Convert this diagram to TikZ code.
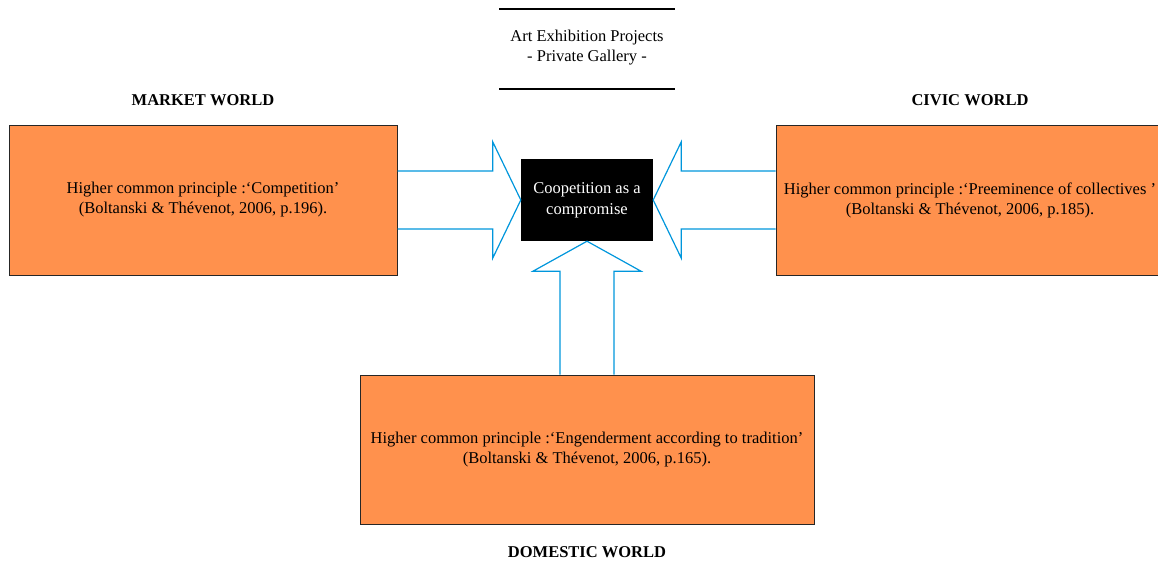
\documentclass[tikz,border=0pt]{standalone}
\usepackage{fontspec}
\setmainfont{Liberation Serif}
\usetikzlibrary{calc}
\definecolor{worldorange}{RGB}{255,145,77}
\definecolor{arrowblue}{RGB}{0,150,220}

\begin{document}
\begin{tikzpicture}[x=1pt, y=-1pt, font=\fontsize{16.5}{20}\selectfont,
    worldbox/.style={draw=black!85, line width=1pt, fill=worldorange, inner sep=0pt, align=center, minimum height=150pt},
    worldlabel/.style={font=\fontsize{16.5}{20}\selectfont\bfseries},
    blockarrow/.style={draw=arrowblue, line width=1.2pt, line join=miter}]
    \useasboundingbox (0,0) rectangle (1158,565);
    \clip (0,0) rectangle (1158,565);
    % Titulo
    \node[align=center] (title) at (587,48) {Art Exhibition Projects\\- Private Gallery -};
    \coordinate (tl) at (499,9);
    \coordinate (tr) at (675,9);
    \coordinate (bl) at (499,89);
    \coordinate (br) at (675,89);
    \draw[line width=1.2pt] (tl) -- (tr);
    \draw[line width=1.2pt] (bl) -- (br);
    % Mundos
    \node[worldbox, minimum width=388pt] (market) at (203,200)
        {Higher common principle :`Competition'\\(Boltanski \& Thévenot, 2006, p.196).};
    \node[worldbox, minimum width=400pt] (civic) at (976,200)
        {\hspace*{-12pt}Higher common principle :`Preeminence of collectives '\\\hspace*{-12pt}(Boltanski \& Thévenot, 2006, p.185).};
    \node[worldbox, minimum width=454pt, minimum height=149pt] (domestic) at (587,449.5)
        {Higher common principle :`Engenderment according to tradition'\\(Boltanski \& Thévenot, 2006, p.165).};
    \node[worldlabel] (marketlabel) at (203,100) {MARKET WORLD};
    \node[worldlabel] (civiclabel) at (970,100) {CIVIC WORLD};
    \node[worldlabel] (domesticlabel) at (587,552) {DOMESTIC WORLD};
    % Compromisso
    \node[fill=black, text=white, align=center, minimum width=132pt, minimum height=82pt, inner sep=0pt,
        font=\fontsize{16.5}{21}\selectfont] (hub) at (587,200)
        {Coopetition as a\\compromise};
    % Setas
    \draw[blockarrow] ($(market.east)+(0,-29)$) -- ($(hub.west)+(-28,-29)$) -- ($(hub.west)+(-28,-58)$)
        -- (hub.west) -- ($(hub.west)+(-28,58)$) -- ($(hub.west)+(-28,29)$) -- ($(market.east)+(0,29)$);
    \draw[blockarrow] ($(civic.west)+(0,-29)$) -- ($(hub.east)+(28,-29)$) -- ($(hub.east)+(28,-58)$)
        -- (hub.east) -- ($(hub.east)+(28,58)$) -- ($(hub.east)+(28,29)$) -- ($(civic.west)+(0,29)$);
    \draw[blockarrow] ($(domestic.north)+(-27,0)$) -- ($(hub.south)+(-27,30)$) -- ($(hub.south)+(-54,30)$)
        -- (hub.south) -- ($(hub.south)+(54,30)$) -- ($(hub.south)+(27,30)$) -- ($(domestic.north)+(27,0)$);
\end{tikzpicture}
\end{document}
